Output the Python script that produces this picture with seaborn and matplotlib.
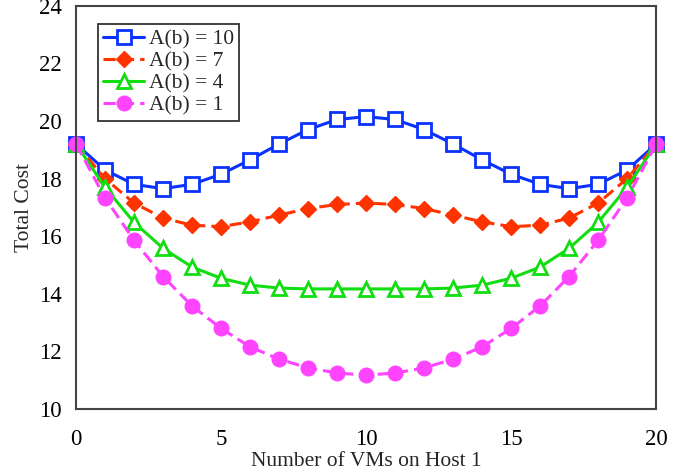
import numpy as np
import pandas as pd
import matplotlib
matplotlib.use("Agg")
import matplotlib.pyplot as plt
import seaborn as sns

# ── Data ───────────────────────────────────────────
vms = list(range(21))
cost_a10 = [19.2, 18.3, 17.8, 17.65, 17.8, 18.15, 18.65, 19.2, 19.7, 20.05, 20.15,
            20.05, 19.7, 19.2, 18.65, 18.15, 17.8, 17.65, 17.8, 18.3, 19.2]
cost_a7 = [19.2, 18.0, 17.15, 16.63, 16.38, 16.33, 16.5, 16.73, 16.96, 17.1, 17.15,
           17.1, 16.96, 16.73, 16.5, 16.33, 16.38, 16.63, 17.15, 18.0, 19.2]
cost_a4 = [19.2, 17.7, 16.48, 15.58, 14.93, 14.54, 14.3, 14.2, 14.17, 14.17, 14.17,
           14.17, 14.17, 14.2, 14.3, 14.54, 14.93, 15.58, 16.48, 17.7, 19.2]
cost_a1 = [19.2, 17.33, 15.86, 14.6, 13.58, 12.8, 12.16, 11.73, 11.43, 11.25, 11.18,
           11.25, 11.43, 11.73, 12.16, 12.8, 13.58, 14.6, 15.86, 17.33, 19.2]
labels = ["A(b) = 10", "A(b) = 7", "A(b) = 4", "A(b) = 1"]

sns.set_style("white")
plt.rcParams["font.family"] = ["Liberation Serif", "DejaVu Serif"]

fig = plt.figure(figsize=(6.94, 4.74), dpi=100)
ax = fig.add_axes([0.1095, 0.137, 0.836, 0.851])

styles = [
    dict(color="#0a32ff", marker="s", linestyle="-", markersize=10,
         markerfacecolor="white", markeredgewidth=2),
    dict(color="#ff3300", marker="D", linestyle=(0, (4, 2)), markersize=8.5,
         markerfacecolor="#ff3300", markeredgewidth=1),
    dict(color="#11dd11", marker="^", linestyle="-", markersize=10,
         markerfacecolor="white", markeredgewidth=2),
    dict(color="#ff44ff", marker="o", linestyle=(0, (4, 2)), markersize=10.5,
         markerfacecolor="#ff44ff", markeredgewidth=1),
]

for series, lab, st in zip([cost_a10, cost_a7, cost_a4, cost_a1], labels, styles):
    df = pd.DataFrame({"vms": vms, "cost": series})
    sns.lineplot(data=df, x="vms", y="cost", ax=ax, label=lab,
                 linewidth=2.2, markeredgecolor=st["color"], clip_on=False, **st)

ax.set_xlim(0, 20)
ax.set_ylim(10, 24)
ax.set_xticks([0, 5, 10, 15, 20])
ax.set_yticks([10, 12, 14, 16, 18, 20, 22, 24])
ax.tick_params(direction="in", length=6, width=1.3, colors="#444444",
               labelcolor="black", labelsize=16.5)
ax.tick_params(axis="x", pad=14)
ax.tick_params(axis="y", pad=10)
ax.set_xlabel("Number of VMs on Host 1", fontsize=15.5, labelpad=2)
ax.set_ylabel("Total Cost", fontsize=15.5, labelpad=4)
for sp in ax.spines.values():
    sp.set_color("#444444")
    sp.set_linewidth(1.5)

leg = ax.legend(loc="upper left", bbox_to_anchor=(0.038, 0.955), fontsize=15.5,
                frameon=True, fancybox=False, edgecolor="black",
                handlelength=1.9, handletextpad=0.2, borderpad=0.25,
                labelspacing=0.1, borderaxespad=0)
leg.get_frame().set_linewidth(1.3)

fig.savefig("out.png", dpi=100)
plt.close(fig)
